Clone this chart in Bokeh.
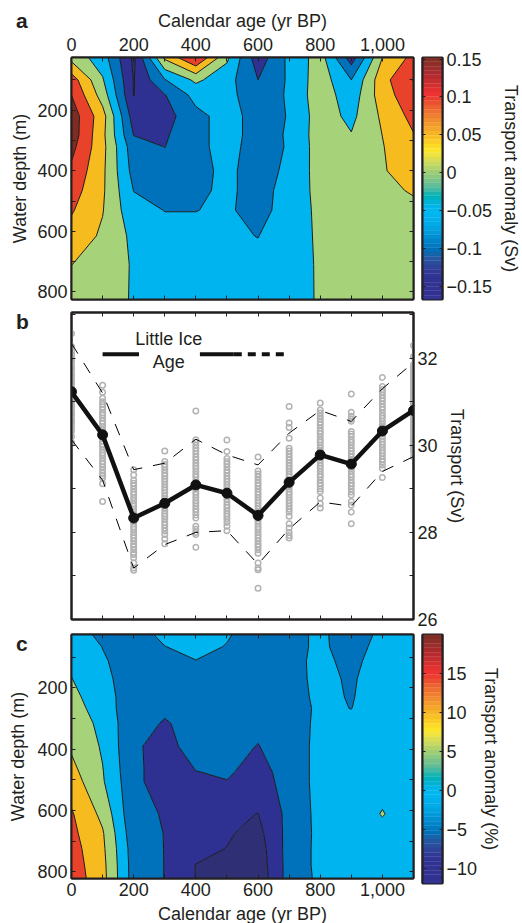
from bokeh.plotting import figure
from bokeh.models import Range1d, LinearAxis, FixedTicker, Label, Div
from bokeh.layouts import column, row
from bokeh.embed import file_html
from bokeh.resources import INLINE
import numpy as np

# ---------- shared data ----------
age = [0, 100, 200, 300, 400, 500, 600, 700, 800, 900, 1000, 1100]
band_colors = ["#2E2F75", "#2E3192", "#0072BC", "#00B5EF", "#A6D27A", "#F6BC1F", "#E8432A", "#7F2D22"]
bar_colors = ["#7F2F25", "#8E2E28", "#9B2D2C", "#A92B2E", "#B72B30", "#C42E30", "#D2302F", "#E23130",
              "#EE3433", "#EC3F30", "#EB5130", "#EC6231", "#ED7031", "#EF7E30", "#F18C2F", "#F39A2D",
              "#F5A72B", "#F7B428", "#F9C026", "#FBCD25", "#FCDB26", "#FCE62A", "#F0E33C", "#DCDE4E",
              "#C8D95C", "#B3D36A", "#A0CE75", "#8CC97F", "#78C38A", "#63BE96", "#45B9A2", "#18B4AE",
              "#00B2BD", "#00B3D4", "#00B6E8", "#00B7F0", "#00B5F0", "#00B0EC", "#00ABE8", "#00A3E0",
              "#009ADA", "#008FD2", "#0085CA", "#007BC2", "#0070B8", "#1565AC", "#2458A4", "#2A4E9C",
              "#2E4398", "#303A96", "#313594", "#313393", "#313392", "#313292", "#313292", "#313292"]

# ---------- panel a: values in units of 0.05 Sv ----------
depth_a = [26, 100, 150, 220, 282, 320, 400, 465, 530, 615, 710, 825]
anom_a = [
    [0.15, -1.04, -3.7, 0.7, 2.6, -0.3, -3.1, -1.25, -0.05, -3.0, 0.5, 1.79],
    [2.0, -0.4, -3.55, -1.55, -0.3, -1.12, -2.5, -1.35, 0.05, -1.5, 1.15, 2.55],
    [2.5, 0.05, -3.52, -2.55, -1.15, -1.15, -2.2, -1.35, 0.1, -1.1, 1.05, 2.18],
    [3.05, 0.9, -3.0, -2.9, -1.8, -1.1, -1.9, -1.45, 0.0, -0.75, 0.68, 1.8],
    [3.05, 0.75, -2.52, -2.65, -1.65, -1.3, -1.7, -1.45, 0.05, -0.45, 0.51, 1.45],
    [2.8, 0.8, -2.1, -2.52, -1.65, -1.3, -1.75, -1.45, 0.0, -0.1, 0.45, 1.3],
    [2.3, 0.7, -1.85, -2.1, -1.7, -1.35, -1.8, -1.35, -0.05, 0.1, 0.42, 0.95],
    [1.95, 0.65, -1.52, -1.9, -1.6, -1.4, -1.7, -1.3, -0.1, 0.15, 0.3, 0.58],
    [1.6, 0.55, -1.2, -1.52, -1.52, -1.35, -1.9, -1.0, -0.3, 0.1, 0.2, 0.3],
    [1.1, 0.35, -0.75, -1.2, -1.2, -1.35, -1.52, -0.95, -0.35, 0.05, 0.15, 0.2],
    [0.51, 0.1, -0.6, -1.0, -1.1, -1.15, -1.25, -0.95, -0.38, 0.0, 0.05, 0.1],
    [-0.1, 0.0, -0.6, -0.95, -1.05, -1.1, -1.15, -0.9, -0.4, 0.0, 0.05, 0.1],
]
levels_a = [-0.225, -0.175, -0.125, -0.075, -0.025, 0.025, 0.075, 0.125, 0.175]

# ---------- panel c: values in units of 5 % ----------
depth_c = [26, 66, 112, 170, 230, 267, 316, 390, 475, 505, 612, 675, 724, 778, 825]
anom_c = [
    [0.1, -0.8, -1.05, -0.2, 0.0, -0.4, -1.0, -1.0, -0.2, -1.3, -0.15, 0.1],
    [0.2, -0.52, -1.0, -0.52, -0.2, -0.55, -1.0, -1.0, -0.2, -1.2, 0.1, 0.1],
    [0.35, -0.4, -0.95, -0.75, -0.52, -0.7, -1.0, -1.0, -0.1, -0.95, 0.3, 0.1],
    [0.52, -0.2, -1.1, -1.1, -1.05, -1.0, -1.1, -1.05, -0.1, -0.7, 0.35, 0.1],
    [0.75, -0.05, -1.1, -1.25, -1.2, -1.2, -1.25, -1.15, -0.15, -0.6, 0.3, 0.1],
    [0.9, 0.05, -1.2, -1.4, -1.25, -1.25, -1.3, -1.15, -0.25, -0.52, 0.3, 0.1],
    [1.1, 0.24, -1.25, -1.55, -1.3, -1.3, -1.35, -1.15, -0.2, -0.1, 0.1, 0.1],
    [1.35, 0.39, -1.35, -1.85, -1.05, -1.3, -1.52, -1.15, -0.15, -0.1, 0.1, 0.1],
    [1.8, 0.55, -1.3, -1.9, -1.52, -1.4, -1.8, -1.15, -0.15, -0.05, 0.15, 0.1],
    [2.0, 0.6, -1.25, -2.0, -1.85, -1.52, -1.9, -1.15, -0.15, 0.0, 0.2, 0.1],
    [2.6, 1.25, -1.3, -1.55, -2.15, -2.3, -2.52, -1.2, -0.2, 0.0, 0.55, 0.0],
    [2.75, 1.6, -1.15, -1.52, -2.1, -2.4, -2.8, -1.15, -0.25, 0.0, 0.2, 0.1],
    [2.9, 1.7, -1.0, -1.52, -2.2, -2.52, -3.0, -1.1, -0.25, 0.0, 0.2, 0.1],
    [3.0, 1.8, -0.95, -1.52, -2.52, -2.8, -3.1, -1.1, -0.25, 0.0, 0.2, 0.1],
    [3.1, 1.85, -0.95, -1.52, -2.52, -2.9, -3.2, -1.1, -0.3, 0.0, 0.2, 0.1],
]
levels_c = [-17.5, -12.5, -7.5, -2.5, 2.5, 7.5, 12.5, 17.5]

# ---------- panel b ----------
mean_t = [31.23, 30.24, 28.33, 28.67, 29.09, 28.9, 28.39, 29.15, 29.78, 29.57, 30.33, 30.8]
upper_t = [32.34, 31.2, 29.44, 29.59, 30.14, 29.78, 29.55, 30.28, 30.8, 30.55, 31.3, 31.9]
lower_t = [30.13, 29.2, 27.18, 27.72, 28.0, 28.04, 27.27, 28.08, 28.7, 28.6, 29.4, 29.74]
ensemble = {
    0: [32.57, 32.27, 32.16, 32.08, 32.0, 31.95, 31.88, 31.8, 31.74, 31.66, 31.6, 31.53, 31.46, 31.4, 31.32, 31.27, 31.2, 31.13, 31.07, 31.0, 30.93, 30.87, 30.8, 30.73, 30.68, 30.6, 30.54, 30.47, 30.4, 30.33, 30.2, 30.06],
    100: [31.38, 31.22, 31.08, 31.0, 30.94, 30.88, 30.82, 30.75, 30.69, 30.62, 30.55, 30.5, 30.43, 30.36, 30.3, 30.23, 30.17, 30.1, 30.03, 29.97, 29.9, 29.83, 29.77, 29.7, 29.63, 29.57, 29.5, 29.43, 29.36, 29.3, 29.25, 29.12, 28.71],
    200: [29.44, 29.32, 29.2, 29.13, 29.07, 29.0, 28.93, 28.87, 28.8, 28.73, 28.66, 28.6, 28.53, 28.46, 28.4, 28.33, 28.27, 28.2, 28.13, 28.07, 28.0, 27.93, 27.87, 27.8, 27.73, 27.67, 27.6, 27.53, 27.49, 27.42, 27.3, 27.18, 27.13],
    300: [29.87, 29.63, 29.56, 29.5, 29.43, 29.36, 29.3, 29.23, 29.17, 29.1, 29.03, 28.97, 28.9, 28.83, 28.77, 28.7, 28.63, 28.57, 28.5, 28.43, 28.37, 28.3, 28.23, 28.17, 28.1, 28.03, 27.95, 27.85, 27.74],
    400: [30.79, 30.13, 30.07, 30.0, 29.93, 29.87, 29.8, 29.73, 29.67, 29.6, 29.53, 29.47, 29.4, 29.33, 29.27, 29.2, 29.13, 29.07, 29.0, 28.93, 28.87, 28.8, 28.73, 28.67, 28.6, 28.53, 28.47, 28.4, 28.33, 28.14, 28.07, 28.0, 27.95, 27.66],
    500: [30.12, 29.86, 29.7, 29.63, 29.57, 29.5, 29.43, 29.37, 29.3, 29.23, 29.17, 29.1, 29.03, 28.97, 28.9, 28.83, 28.77, 28.7, 28.63, 28.57, 28.5, 28.43, 28.37, 28.3, 28.23, 28.14, 28.04],
    600: [29.73, 29.41, 29.34, 29.27, 29.2, 29.13, 29.07, 29.0, 28.93, 28.87, 28.8, 28.73, 28.67, 28.6, 28.53, 28.47, 28.4, 28.33, 28.27, 28.2, 28.13, 28.07, 28.0, 27.93, 27.87, 27.8, 27.73, 27.67, 27.6, 27.52, 27.3, 27.18, 27.14, 26.72],
    700: [30.89, 30.51, 30.41, 30.16, 29.93, 29.87, 29.8, 29.73, 29.67, 29.6, 29.53, 29.47, 29.4, 29.33, 29.27, 29.2, 29.13, 29.07, 29.0, 28.93, 28.87, 28.8, 28.73, 28.67, 28.6, 28.53, 28.47, 28.37, 28.2, 28.1, 28.0, 27.93, 27.87],
    800: [30.97, 30.81, 30.74, 30.67, 30.6, 30.53, 30.47, 30.4, 30.33, 30.27, 30.2, 30.13, 30.07, 30.0, 29.93, 29.87, 29.8, 29.73, 29.67, 29.6, 29.53, 29.47, 29.4, 29.33, 29.27, 29.2, 29.13, 29.07, 29.0, 28.94, 28.79, 28.66, 28.56],
    900: [31.18, 30.76, 30.67, 30.6, 30.55, 30.32, 30.26, 30.2, 30.13, 30.07, 30.0, 29.93, 29.87, 29.8, 29.73, 29.67, 29.6, 29.53, 29.47, 29.4, 29.33, 29.27, 29.2, 29.13, 29.07, 29.0, 28.93, 28.86, 28.71, 28.63, 28.47, 28.2],
    1000: [31.56, 31.35, 31.28, 31.22, 31.15, 31.08, 31.02, 30.95, 30.88, 30.82, 30.75, 30.68, 30.62, 30.55, 30.48, 30.42, 30.35, 30.28, 30.22, 30.15, 30.08, 30.02, 29.95, 29.88, 29.82, 29.75, 29.68, 29.62, 29.55, 29.47, 29.26],
    1100: [32.29, 32.04, 31.85, 31.78, 31.72, 31.65, 31.58, 31.52, 31.45, 31.38, 31.32, 31.25, 31.18, 31.12, 31.05, 30.98, 30.92, 30.85, 30.78, 30.72, 30.65, 30.58, 30.52, 30.45, 30.38, 30.32, 30.25, 30.18, 30.12, 30.05, 29.98, 29.92, 29.85, 29.74],
}
lia_solid = [([100, 217], [32.09, 32.09]), ([413, 522], [32.09, 32.09])]
lia_dashed = ([522, 697], [32.09, 32.09])

xticks_major = [0, 200, 400, 600, 800, 1000]
xticks_minor = [100, 300, 500, 700, 900]
dticks_major = [200, 400, 600, 800]
dticks_minor = [100, 300, 500, 700]
INK = "#231F20"
FONT = "Liberation Sans"
TSIZE = "18px"


def style_axis(ax, labels=True):
    ax.axis_line_color = INK
    ax.axis_line_width = 2
    ax.major_tick_in = 4
    ax.major_tick_out = 0
    ax.minor_tick_in = 4
    ax.minor_tick_out = 0
    ax.major_tick_line_color = INK
    ax.minor_tick_line_color = INK
    ax.major_tick_line_width = 1
    ax.minor_tick_line_width = 1
    ax.major_label_text_font = FONT
    ax.major_label_text_font_size = TSIZE
    ax.major_label_text_color = INK
    ax.major_label_standoff = 4
    ax.axis_label_text_font = FONT
    ax.axis_label_text_font_size = TSIZE
    ax.axis_label_text_font_style = "normal"
    ax.axis_label_text_color = INK
    if not labels:
        ticks = list(ax.ticker.ticks)
        ax.major_label_overrides = {t: "" for t in ticks}
        ax.major_label_standoff = 0


def base(fw, fh, xr, yr, top, bottom, left, right, xloc="below", yloc="left"):
    p = figure(frame_width=fw, frame_height=fh, x_range=xr, y_range=yr,
               x_axis_location=xloc, y_axis_location=yloc,
               toolbar_location=None, output_backend="svg",
               min_border_top=top, min_border_bottom=bottom,
               min_border_left=left, min_border_right=right)
    p.grid.visible = False
    p.outline_line_color = INK
    p.outline_line_width = 2
    p.background_fill_color = "white"
    return p


def xticker():
    return FixedTicker(ticks=xticks_major, minor_ticks=xticks_minor)


def dticker():
    return FixedTicker(ticks=dticks_major, minor_ticks=dticks_minor)


def contour_panel(depth, z, levels, colors, top, bottom, fh, xloc, ytop, ybot, ystandoff):
    p = base(342, fh, Range1d(0, 1100), Range1d(ybot, ytop), top, bottom, 71, 4, xloc=xloc)
    p.contour(np.array(age, float), np.array(depth, float), z, levels=levels,
              fill_color=colors, line_color="#1A1A1A", line_width=1)
    main = p.above[0] if xloc == "above" else p.below[0]
    main.ticker = xticker()
    main.major_label_overrides = {1000: "1,000"}
    main.axis_label = "Calendar age (yr BP)"
    style_axis(main)
    if xloc == "above":
        main.major_label_standoff = 7
        main.axis_label_standoff = 4
    other = LinearAxis(ticker=xticker())
    style_axis(other, labels=False)
    p.add_layout(other, "below" if xloc == "above" else "above")
    yax = p.left[0]
    yax.ticker = dticker()
    yax.axis_label = "Water depth (m)"
    style_axis(yax)
    yax.axis_label_standoff = ystandoff
    rax = LinearAxis(ticker=dticker())
    style_axis(rax, labels=False)
    p.add_layout(rax, "right")
    return p


def color_bar(lo, hi, ticks, overrides, label, top, bottom, fh, standoff):
    p = base(20, fh, Range1d(0, 1), Range1d(lo, hi), top, bottom, 5, 80, yloc="right")
    edges = np.linspace(hi, lo, len(bar_colors) + 1)
    p.quad(left=0, right=1, top=edges[:-1], bottom=edges[1:], fill_color=bar_colors,
           line_color=bar_colors, line_width=0.3)
    p.xaxis.visible = False
    rax = p.right[0]
    rax.ticker = FixedTicker(ticks=ticks)
    rax.major_label_overrides = overrides
    rax.axis_label = label
    style_axis(rax)
    rax.major_tick_in = 3
    rax.axis_label_standoff = standoff
    lax = LinearAxis(ticker=FixedTicker(ticks=ticks))
    style_axis(lax, labels=False)
    lax.major_tick_in = 3
    p.add_layout(lax, "left")
    return p


# panel a
Za = np.array(anom_a) * 0.05
pa = contour_panel(depth_a, Za, levels_a, band_colors, 57, 6, 242, "above", 26, 825, 4)
ta = [0.15, 0.1, 0.05, 0, -0.05, -0.1, -0.15]
bar_a = color_bar(-0.167, 0.152, ta,
                  {0.15: "0.15", 0.1: "0.1", 0.05: "0.05", 0: "0", -0.05: "\u22120.05", -0.1: "\u22120.1", -0.15: "\u22120.15"},
                  "Transport anomaly (Sv)", 57, 6, 242, 6)

# panel b
pb = base(342, 307, Range1d(0, 1100), Range1d(26, 33.05), 7, 11, 71, 105, yloc="right")
for xval, vals in ensemble.items():
    pb.scatter([xval] * len(vals), vals, marker="circle", size=5.5, fill_color=None,
               line_color="#B2B2B2", line_width=1.5)
pb.line(age, upper_t, line_color="black", line_width=1, line_dash="12 11")
pb.line(age, lower_t, line_color="black", line_width=1, line_dash="12 11")
pb.line(age, mean_t, line_color="#111111", line_width=4.5)
pb.scatter(age, mean_t, marker="circle", size=10, fill_color="#111111", line_color="#111111")
for xs, ys in lia_solid:
    pb.line(xs, ys, line_color="#111111", line_width=4)
pb.line(lia_dashed[0], lia_dashed[1], line_color="#111111", line_width=4, line_dash="8 6")
pb.add_layout(Label(x=313, y=32.44, text="Little Ice", text_font=FONT, text_font_size=TSIZE,
                    text_align="center", text_baseline="middle", text_color=INK))
pb.add_layout(Label(x=313, y=31.92, text="Age", text_font=FONT, text_font_size=TSIZE,
                    text_align="center", text_baseline="middle", text_color=INK))
rb = pb.right[0]
rb.ticker = FixedTicker(ticks=[26, 28, 30, 32], minor_ticks=[27, 29, 31, 33])
rb.axis_label = "Transport (Sv)"
style_axis(rb)
rb.axis_label_standoff = 6
lb = LinearAxis(ticker=FixedTicker(ticks=[26, 28, 30, 32], minor_ticks=[27, 29, 31, 33]))
style_axis(lb, labels=False)
pb.add_layout(lb, "left")
xb = pb.below[0]
xb.ticker = xticker()
style_axis(xb, labels=False)
xt = LinearAxis(ticker=xticker())
style_axis(xt, labels=False)
pb.add_layout(xt, "above")

# panel c
Zc = np.array(anom_c) * 5.0
pc = contour_panel(depth_c, Zc, levels_c, band_colors[:7], 4, 45, 244, "below", 26, 822, 6)
tc = [15, 10, 5, 0, -5, -10]
bar_c = color_bar(-11.9, 20, tc, {15: "15", 10: "10", 5: "5", 0: "0", -5: "\u22125", -10: "\u221210"},
                  "Transport anomaly (%)", 4, 40, 249, 1)

# panel letters
letter_style = "position:absolute;z-index:5;font:bold 21px 'Liberation Sans';color:#231F20;line-height:1;"
letters = Div(text=(f'<span style="{letter_style}left:16px;top:10px">a</span>'
                    f'<span style="{letter_style}left:16px;top:311px">b</span>'
                    f'<span style="{letter_style}left:16px;top:633px">c</span>'),
              width=1, height=1, margin=(0, 0, -1, 0))

page = column(letters, row(pa, bar_a), pb, row(pc, bar_c))
open("out.html", "w").write(file_html(page, INLINE))
